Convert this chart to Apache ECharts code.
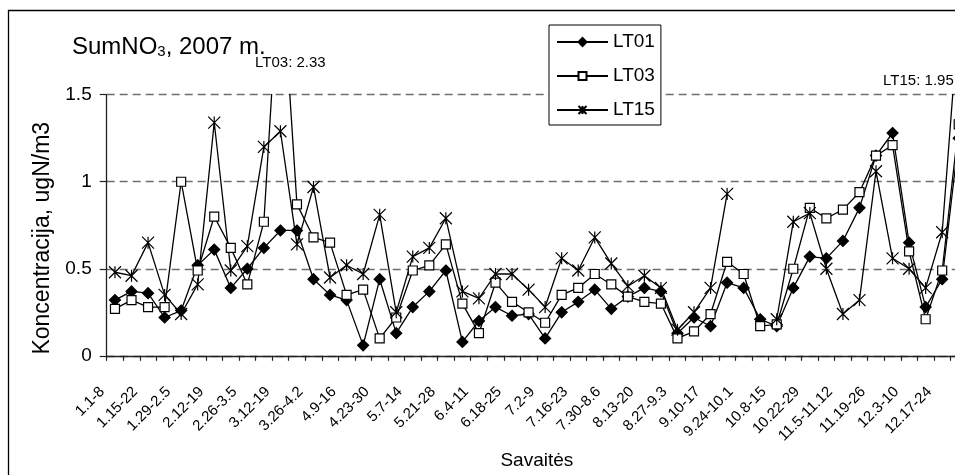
<!DOCTYPE html>
<html>
<head>
<meta charset="utf-8">
<script src="https://cdn.jsdelivr.net/npm/echarts@6/dist/echarts.min.js"></script>
<style>
  html, body { margin: 0; padding: 0; background: #fff; overflow: hidden; }
  /* the plot runs a little past the right edge of the window, as in the source */
  #chart { width: 967px; height: 475px; }
</style>
</head>
<body>
<div id="chart"></div>
<script>
// savaitės (weekly sampling periods, 2007)
const weeks = [
  '1.1-8', '1.8-15', '1.15-22', '1.22-29', '1.29-2.5', '2.5-12', '2.12-19', '2.19-26',
  '2.26-3.5', '3.5-12', '3.12-19', '3.19-26', '3.26-4.2', '4.2-9', '4.9-16', '4.16-23',
  '4.23-30', '4.30-5.7', '5.7-14', '5.14-21', '5.21-28', '5.28-6.4', '6.4-11', '6.11-18',
  '6.18-25', '6.25-7.2', '7.2-9', '7.9-16', '7.16-23', '7.23-30', '7.30-8.6', '8.6-13',
  '8.13-20', '8.20-27', '8.27-9.3', '9.3-10', '9.10-17', '9.17-24', '9.24-10.1', '10.1-8',
  '10.8-15', '10.15-22', '10.22-29', '10.29-11.5', '11.5-11.12', '11.12-19', '11.19-26', '11.26-12.3',
  '12.3-10', '12.10-17', '12.17-24', '12.24-31'
]

const lt01 = [
  0.32, 0.37, 0.36, 0.22, 0.26, 0.52, 0.61, 0.39, 0.50, 0.62, 0.72, 0.72, 0.44,
  0.35, 0.32, 0.06, 0.44, 0.13, 0.28, 0.37, 0.49, 0.08, 0.20, 0.28, 0.23, 0.24,
  0.10, 0.25, 0.31, 0.38, 0.27, 0.34, 0.39, 0.37, 0.13, 0.22, 0.17, 0.42, 0.39,
  0.21, 0.17, 0.39, 0.57, 0.56, 0.66, 0.85, 1.15, 1.28, 0.65, 0.28, 0.44, 1.25
]

const lt03 = [
  0.27, 0.32, 0.28, 0.28, 1.00, 0.49, 0.80, 0.62, 0.41, 0.77, 2.33, 0.87, 0.68,
  0.65, 0.35, 0.38, 0.10, 0.22, 0.49, 0.52, 0.64, 0.30, 0.13, 0.42, 0.31, 0.25,
  0.19, 0.35, 0.39, 0.47, 0.41, 0.34, 0.31, 0.30, 0.10, 0.14, 0.24, 0.54, 0.47,
  0.17, 0.18, 0.50, 0.85, 0.79, 0.84, 0.94, 1.15, 1.21, 0.60, 0.21, 0.49, 1.33
]

const lt15 = [
  0.48, 0.46, 0.65, 0.35, 0.24, 0.41, 1.34, 0.49, 0.63, 1.20, 1.29, 0.64, 0.97,
  0.45, 0.52, 0.47, 0.81, 0.25, 0.57, 0.62, 0.79, 0.37, 0.33, 0.47, 0.47, 0.38,
  0.28, 0.56, 0.49, 0.68, 0.53, 0.40, 0.46, 0.39, 0.15, 0.25, 0.39, 0.93, null,
  null, 0.21, 0.77, 0.82, 0.50, 0.24, 0.32, 1.06, 0.56, 0.50, 0.39, 0.71, 1.95
]

const yMin = 0
const yMax = 1.5
const yStep = 0.5

const FONT = '"Liberation Sans", Arial, sans-serif'
const STAR = 'path://M0 0L12 12M12 0L0 12M6 0L6 12'

function lineSeries(name, data, symbol, size, fill) {
  return {
    name,
    type: 'line',
    data,
    symbol,
    symbolSize: size,
    showAllSymbol: true,
    connectNulls: false,
    lineStyle: { color: '#000', width: 1.3 },
    itemStyle: { color: fill, borderColor: '#000', borderWidth: 1.2 },
    emphasis: { disabled: true },
  }
}

const chart = echarts.init(document.getElementById('chart'), null, { renderer: 'canvas' })

chart.setOption({
  animation: false,
  backgroundColor: '#fff',
  textStyle: { fontFamily: FONT, color: '#000' },
  title: {
    text: '{a|SumNO}{s|3}{a|, 2007 m.}',
    left: 67,
    top: 27,
    textStyle: {
      fontWeight: 'normal',
      rich: {
        a: { fontFamily: FONT, fontSize: 24, fontWeight: 'normal', color: '#000', verticalAlign: 'bottom', lineHeight: 27 },
        s: { fontFamily: FONT, fontSize: 15, fontWeight: 'normal', color: '#000', verticalAlign: 'bottom', lineHeight: 13 },
      },
    },
  },
  legend: {
    orient: 'vertical',
    left: 549,
    top: 25,
    padding: [7, 6, 5, 7],
    itemGap: 14,
    itemWidth: 51,
    itemHeight: 10,
    borderColor: '#000',
    borderWidth: 1,
    backgroundColor: '#fff',
    textStyle: { fontFamily: FONT, fontSize: 19, color: '#000', lineHeight: 20 },
    data: ['LT01', 'LT03', 'LT15'],
  },
  grid: { left: 106.7, right: 0, top: 94.7, bottom: 116.3 },
  xAxis: {
    type: 'category',
    data: weeks,
    boundaryGap: true,
    name: 'Savaitės',
    nameLocation: 'middle',
    nameGap: 94,
    nameTextStyle: { fontFamily: FONT, fontSize: 19, color: '#000' },
    axisLine: { lineStyle: { color: '#222', width: 1.3 } },
    axisTick: { show: true, interval: 0, length: 5, lineStyle: { color: '#222', width: 1.2 } },
    axisLabel: {
      interval: 1,
      rotate: 45,
      margin: 21,
      padding: [0, 18, 0, 0],
      fontFamily: FONT,
      fontSize: 15,
      color: '#000',
    },
    splitLine: { show: false },
  },
  yAxis: {
    type: 'value',
    min: yMin,
    max: yMax,
    interval: yStep,
    name: 'Koncentracija, ugN/m3',
    nameLocation: 'middle',
    nameGap: 53,
    nameTextStyle: { fontFamily: FONT, fontSize: 23, color: '#000', padding: [0, 26, 0, 0] },
    axisLine: { show: true, lineStyle: { color: '#222', width: 1.3 } },
    axisTick: { show: true, length: 7, lineStyle: { color: '#222', width: 1.2 } },
    axisLabel: { margin: 15, fontFamily: FONT, fontSize: 19, color: '#000' },
    splitLine: { show: true, lineStyle: { color: '#6e6e6e', width: 1.3, type: [8, 5] } },
  },
  graphic: [
    {
      id: 'frame',
      type: 'rect',
      shape: { x: 8.5, y: 10.5, width: 1100, height: 600 },
      style: { fill: 'none', stroke: '#000', lineWidth: 1.3 },
      silent: true,
      z: -10,
    },
  ],
  series: [
    lineSeries('LT01', lt01, 'diamond', 11, '#000'),
    lineSeries('LT03', lt03, 'rect', 9, '#fff'),
    lineSeries('LT15', lt15, STAR, 12, '#000'),
  ],
})

// out-of-range notes placed above the clipped peaks
function peakNote(id, name, values, dx, dy, align) {
  let idx = 0
  values.forEach((v, i) => { if (v != null && v > values[idx]) idx = i })
  const p = chart.convertToPixel({ gridIndex: 0 }, [idx, yMax])
  return {
    id,
    type: 'text',
    x: p[0] + dx,
    y: p[1] + dy,
    style: {
      text: name + ': ' + values[idx].toFixed(2),
      fontFamily: FONT,
      fontSize: 15,
      fill: '#000',
      align,
      verticalAlign: 'middle',
    },
    silent: true,
    z: 10,
  }
}

chart.setOption({
  graphic: [
    peakNote('note03', 'LT03', lt03, 10, -32, 'center'),
    peakNote('note15', 'LT15', lt15, -5, -14, 'right'),
  ],
})
</script>
</body>
</html>
